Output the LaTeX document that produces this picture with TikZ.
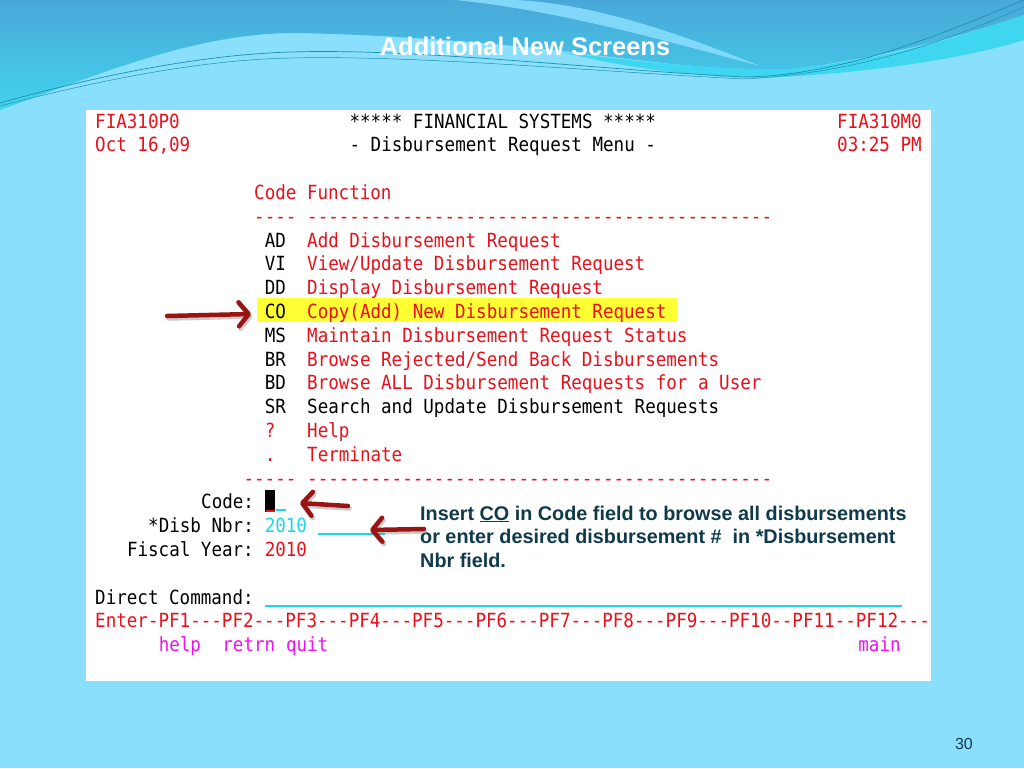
\documentclass[tikz,border=0pt]{standalone}
\usepackage{fontspec}
\usepackage{xcolor}
\usepackage{tikz}
\usetikzlibrary{arrows.meta}

\newfontfamily\termfont[Ligatures=TeXOff, FakeStretch=0.9]{DejaVu Sans Mono}
\newfontfamily\notefont{Liberation Sans}

\definecolor{sky}{HTML}{8ADFFD}
\definecolor{topblue}{HTML}{4AA8D8}
\definecolor{topcyan}{HTML}{42D3EE}
\definecolor{bandcyan}{HTML}{3ED6F0}
\definecolor{wavelin}{HTML}{1E8FB0}
\definecolor{termred}{HTML}{E8101A}
\definecolor{termcyan}{HTML}{1ED6E6}
\definecolor{termmag}{HTML}{F010F0}
\definecolor{hlyellow}{HTML}{FFFF33}
\definecolor{notecol}{HTML}{0E3A4C}
\definecolor{arrowred}{HTML}{9A1414}

\tikzset{
  term/.style={anchor=base west, inner sep=0pt, font=\termfont\fontsize{19.5}{22}\selectfont},
  redarrow/.style={draw=arrowred, line width=4.5pt, line cap=round,
    -{Straight Barb[length=10pt, width=24pt, line width=4.5pt, round]}},
  arrshadow/.style={draw=black!45, opacity=0.45, line width=4.5pt, line cap=round,
    -{Straight Barb[length=10pt, width=24pt, line width=4.5pt, round]}}
}

\begin{document}
\begin{tikzpicture}[x=1pt, y=-1pt]
    \useasboundingbox (0,0) rectangle (1024,768);

    % background and top waves
    \fill[sky] (0,0) rectangle (1024,768);
    \shade[top color=topblue, bottom color=topcyan]
      (0,0) -- (1024,0) -- (1024,15)
      .. controls (980,30) and (900,55) .. (800,68)
      .. controls (760,72) and (700,68) .. (620,58)
      .. controls (520,45) and (420,36) .. (300,33)
      .. controls (200,32) and (110,70) .. (0,110) -- cycle;
    \fill[bandcyan] (560,52) .. controls (660,64) and (720,70) .. (790,69)
      .. controls (900,58) and (980,30) .. (1024,15) -- (1024,40)
      .. controls (960,60) and (860,74) .. (760,78)
      .. controls (680,76) and (620,66) .. (560,52) -- cycle;
    \fill[sky, opacity=0.85] (455,0) .. controls (560,10) and (680,45) .. (760,66)
      .. controls (690,38) and (600,4) .. (515,0) -- cycle;
    \draw[wavelin, line width=0.7pt] (0,103) .. controls (100,75) and (200,55) .. (290,52)
      .. controls (420,48) and (600,70) .. (745,77)
      .. controls (850,75) and (950,30) .. (1024,0);
    \draw[wavelin, line width=0.5pt] (0,106) .. controls (100,80) and (200,60) .. (290,58)
      .. controls (420,55) and (600,72) .. (745,79)
      .. controls (870,72) and (960,35) .. (1024,7);

    % title and page number
    \node[anchor=base, inner sep=0pt, text=white, font=\notefont\bfseries\fontsize{25.5}{30}\selectfont] (title) at (525,56) {Additional New Screens};
    \node[anchor=base east, inner sep=0pt, text=notecol, font=\notefont\fontsize{16}{18}\selectfont] (pagenum) at (973,749) {30};

    % screen panel
    \fill[white] (86,110) rectangle (931,681);
    \fill[hlyellow] (257,298) rectangle (677,322);

    \begin{scope}[shift={(95,128)}, x=10.6pt, y=-23.8pt]
    % header
    \node[term, termred] (hdrL) at (0,0) {FIA310P0};
    \node[term] (hdrC) at (24,0) {***** FINANCIAL SYSTEMS *****};
    \node[term, termred] (hdrR) at (70,0) {FIA310M0};
    \node[term, termred] (dateL) at (0,1) {Oct 16,09};
    \node[term] (dateC) at (24,1) {- Disbursement Request Menu -};
    \node[term, termred] (dateR) at (70,1) {03:25 PM};

    % menu
    \node[term, termred] (colhead) at (15,3) {Code Function};
    \node[term, termred] (rule1a) at (15,4) {----};
    \node[term, termred] (rule1b) at (20,4) {--------------------------------------------};
    \node[term] (cAD) at (16,5) {AD};
    \node[term, termred] (fAD) at (20,5) {Add Disbursement Request};
    \node[term] (cVI) at (16,6) {VI};
    \node[term, termred] (fVI) at (20,6) {View/Update Disbursement Request};
    \node[term] (cDD) at (16,7) {DD};
    \node[term, termred] (fDD) at (20,7) {Display Disbursement Request};
    \node[term] (cCO) at (16,8) {CO};
    \node[term, termred] (fCO) at (20,8) {Copy(Add) New Disbursement Request};
    \node[term] (cMS) at (16,9) {MS};
    \node[term, termred] (fMS) at (20,9) {Maintain Disbursement Request Status};
    \node[term] (cBR) at (16,10) {BR};
    \node[term, termred] (fBR) at (20,10) {Browse Rejected/Send Back Disbursements};
    \node[term] (cBD) at (16,11) {BD};
    \node[term, termred] (fBD) at (20,11) {Browse ALL Disbursement Requests for a User};
    \node[term] (cSR) at (16,12) {SR};
    \node[term] (fSR) at (20,12) {Search and Update Disbursement Requests};
    \node[term, termred] (cHelp) at (16,13) {?};
    \node[term, termred] (fHelp) at (20,13) {Help};
    \node[term, termred] (cEnd) at (16,14) {.};
    \node[term, termred] (fEnd) at (20,14) {Terminate};
    \node[term, termred] (rule2a) at (14,15) {-----};
    \node[term, termred] (rule2b) at (20,15) {--------------------------------------------};

    % input fields
    \node[term] (lblCode) at (10,16) {Code:};
    \node[term] (lblDisb) at (5,17) {*Disb Nbr:};
    \node[term, termcyan] (valDisb) at (16,17) {2010};
    \node[term] (lblYear) at (3,18) {Fiscal Year:};
    \node[term, termred] (valYear) at (16,18) {2010};
    \node[term] (lblCmd) at (0,20) {Direct Command:};
    \node[term, termred] (pfkeys) at (0,21) {Enter-PF1---PF2---PF3---PF4---PF5---PF6---PF7---PF8---PF9---PF10--PF11--PF12---};
    \node[term, termmag] (kHelp) at (6,22) {help};
    \node[term, termmag] (kRet) at (12,22) {retrn};
    \node[term, termmag] (kQuit) at (18,22) {quit};
    \node[term, termmag] (kMain) at (72,22) {main};
    \end{scope}

    % cursor and field lines
    \fill[black] (265,490) rectangle (275,512);
    \draw[termred, line width=1.2pt] (266,511) -- (275,511);
    \draw[termcyan, line width=1.2pt] (276,510) -- (286,510);
    \draw[termcyan, line width=1.2pt] (318,534) -- (385,534);
    \draw[termcyan, line width=1.2pt] (265,606) -- (902,606);

    % note
    \node[anchor=north west, inner sep=0pt, align=left, text=notecol,
      font=\notefont\bfseries\fontsize{19.8}{23.7}\selectfont] (note) at (420,505.5)
      {Insert \underline{CO} in Code field to browse all disbursements\\
       or enter desired disbursement \#\ \ in *Disbursement\\
       Nbr field.};

    % arrows
    \coordinate (a1tail) at (167,316);
    \coordinate (a1tip) at (251,314);
    \coordinate (a2tail) at (348,506);
    \coordinate (a2tip) at (300,503);
    \coordinate (a3tail) at (424,529);
    \coordinate (a3tip) at (370,530);
    \draw[arrshadow] ([shift={(1.5,2.5)}]a1tail) -- ([shift={(1.5,2.5)}]a1tip);
    \draw[arrshadow] ([shift={(1.5,2.5)}]a2tail) -- ([shift={(1.5,2.5)}]a2tip);
    \draw[arrshadow] ([shift={(1.5,2.5)}]a3tail) -- ([shift={(1.5,2.5)}]a3tip);
    \draw[redarrow] (a1tail) -- (a1tip);
    \draw[redarrow] (a2tail) -- (a2tip);
    \draw[redarrow] (a3tail) -- (a3tip);
\end{tikzpicture}
\end{document}
